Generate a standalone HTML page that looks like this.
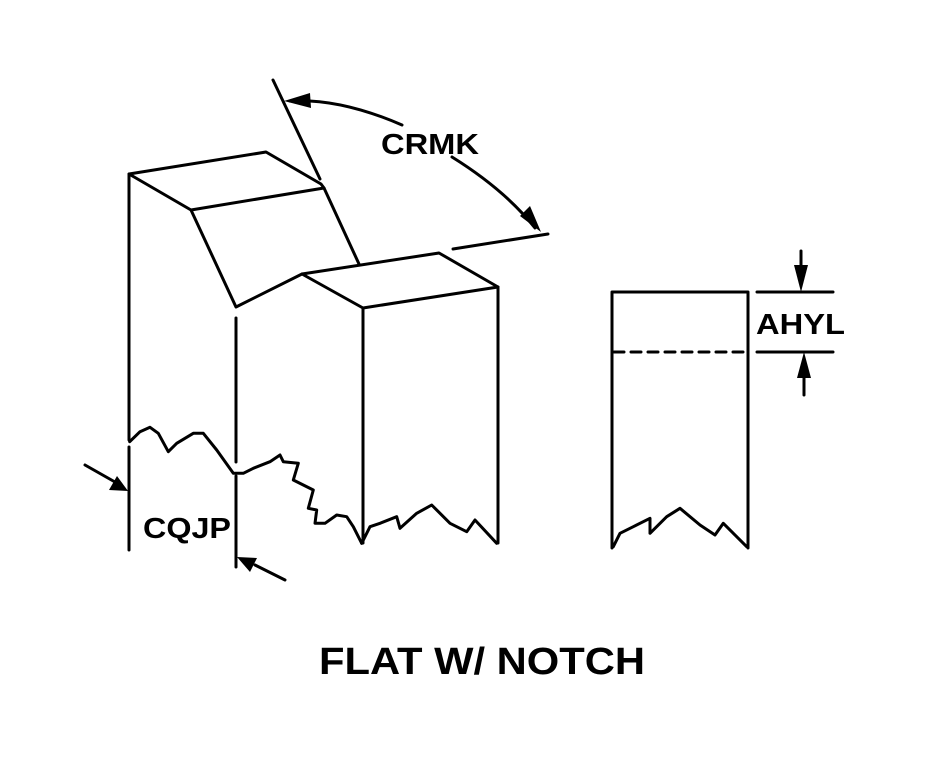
<!DOCTYPE html>
<html><head><meta charset="utf-8"><style>html,body{margin:0;padding:0;background:#fff}svg{display:block}</style></head>
<body>
<svg width="934" height="771" viewBox="0 0 934 771" xmlns="http://www.w3.org/2000/svg">
<g fill="none" stroke="#000" stroke-width="3" stroke-linejoin="round" stroke-linecap="round">
<!-- left block -->
<line x1="129" y1="174" x2="129" y2="440"/>
<line x1="129" y1="447" x2="129" y2="550"/>
<polyline points="191,210 129,174 266,152 321,184 324,188 191,210 236,307 302,274"/>
<line x1="324" y1="188" x2="359" y2="264"/>
<line x1="273" y1="80" x2="320" y2="179"/>
<line x1="236" y1="318" x2="236" y2="462"/>
<line x1="236" y1="476" x2="236" y2="567"/>
<!-- right box -->
<polyline points="363,308 302,274 439,253 498,287 363,308"/>
<line x1="363" y1="308" x2="363" y2="543"/>
<line x1="498" y1="287" x2="498" y2="543"/>
<!-- wave -->
<polyline points="129.7,441.7 140,431.7 150,427.3 158.3,433.3 168.3,451.7 176.7,443.3 193.3,433.3 203.3,433.3 216.7,450 233.3,473.3 243.3,473.3 253.3,468.3 270,461.7 280,455 283.3,461.7 298.3,463.3 293.3,480 313.3,490 308.3,508.3 316.7,510 315,523.3 325,523.3 336.7,515 346.7,516.7 353.3,526.7 361.7,543.3"/>
<polyline points="361.7,543.3 370,526.7 380,523.3 396.7,516.7 400,528.3 416.7,513.3 431.7,505 450,523.3 466.7,531.7 475,520 496.7,543.3"/>
<!-- CRMK -->
<path d="M290,101 Q340,98 402,125"/>
<path d="M452,157 Q505,190 535,228"/>
<line x1="453" y1="249" x2="548" y2="234"/>
<!-- CQJP arrows -->
<line x1="85" y1="465" x2="115" y2="482"/>
<line x1="285" y1="580" x2="255" y2="565"/>
<!-- right figure -->
<polyline points="612,548 612,292 748,292 748,548"/>
<line x1="614" y1="352" x2="746" y2="352" stroke-dasharray="10,7"/>
<line x1="757" y1="292" x2="833" y2="292"/>
<line x1="757" y1="352" x2="833" y2="352"/>
<line x1="801" y1="251" x2="801" y2="272"/>
<line x1="804" y1="375" x2="804" y2="395"/>
<polyline points="613.3,546.7 620,533.3 633.3,526.7 650,518.3 650,533.3 666.7,516.7 680,508.3 700,525 715,535 723.3,523.3 746.7,546.7"/>
</g>
<g fill="#000">
<polygon points="284,101 310,93 311,108"/>
<polygon points="541,232 520,216 530,206"/>
<polygon points="128,491 109,490 117,476"/>
<polygon points="237,557 257,558 250,572"/>
<polygon points="801,292 794,265 808,265"/>
<polygon points="804,352 797,378 811,378"/>
</g>
<g font-family="Liberation Sans, sans-serif" font-weight="bold" fill="#000">
<text x="381" y="154" font-size="29" textLength="98" lengthAdjust="spacingAndGlyphs">CRMK</text>
<text x="143" y="538" font-size="29" textLength="88" lengthAdjust="spacingAndGlyphs">CQJP</text>
<text x="756" y="334" font-size="29" textLength="89" lengthAdjust="spacingAndGlyphs">AHYL</text>
<text x="319" y="674" font-size="38" textLength="326" lengthAdjust="spacingAndGlyphs">FLAT W/ NOTCH</text>
</g>
</svg>
</body></html>
